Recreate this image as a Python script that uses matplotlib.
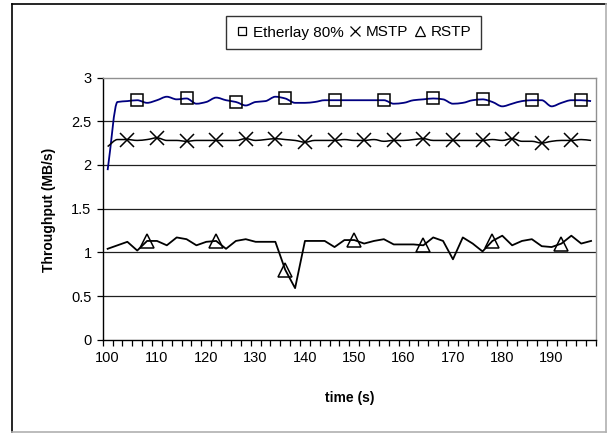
import numpy as np
import matplotlib
matplotlib.use("Agg")
import matplotlib.pyplot as plt
from matplotlib.path import Path
from matplotlib.patches import PathPatch
from matplotlib.lines import Line2D
from matplotlib.ticker import FixedLocator, MultipleLocator

plt.rcParams['font.family'] = ['Liberation Sans', 'DejaVu Sans']

# Sample times (s), one sample every 2 s
time_s = [100, 102, 104, 106, 108, 110, 112, 114, 116, 118,
          120, 122, 124, 126, 128, 130, 132, 134, 136, 138,
          140, 142, 144, 146, 148, 150, 152, 154, 156, 158,
          160, 162, 164, 166, 168, 170, 172, 174, 176, 178,
          180, 182, 184, 186, 188, 190, 192, 194, 196, 198]

# Throughput (MB/s)
etherlay = [1.94, 2.72, 2.73, 2.74, 2.71, 2.74, 2.78, 2.75, 2.76, 2.70,
            2.72, 2.77, 2.74, 2.72, 2.68, 2.72, 2.73, 2.78, 2.76, 2.71,
            2.71, 2.72, 2.74, 2.74, 2.74, 2.74, 2.74, 2.74, 2.74, 2.70,
            2.71, 2.74, 2.75, 2.76, 2.75, 2.70, 2.71, 2.74, 2.75, 2.72,
            2.67, 2.70, 2.73, 2.74, 2.74, 2.67, 2.71, 2.74, 2.74, 2.73]

mstp = [2.21, 2.29, 2.29, 2.28, 2.29, 2.31, 2.28, 2.28, 2.27, 2.28,
        2.28, 2.28, 2.28, 2.28, 2.30, 2.28, 2.29, 2.30, 2.29, 2.28,
        2.26, 2.28, 2.28, 2.28, 2.29, 2.28, 2.28, 2.29, 2.27, 2.28,
        2.28, 2.29, 2.30, 2.28, 2.28, 2.28, 2.28, 2.28, 2.28, 2.29,
        2.28, 2.30, 2.27, 2.27, 2.25, 2.27, 2.28, 2.28, 2.29, 2.28]

rstp = [1.04, 1.08, 1.12, 1.02, 1.13, 1.13, 1.08, 1.17, 1.15, 1.08,
        1.12, 1.13, 1.04, 1.13, 1.15, 1.12, 1.12, 1.12, 0.80, 0.59,
        1.13, 1.13, 1.13, 1.06, 1.14, 1.14, 1.10, 1.13, 1.15, 1.09,
        1.09, 1.09, 1.08, 1.17, 1.13, 0.92, 1.17, 1.10, 1.01, 1.13,
        1.19, 1.08, 1.13, 1.15, 1.07, 1.06, 1.10, 1.19, 1.10, 1.13]

x_labels = [100, 110, 120, 130, 140, 150, 160, 170, 180, 190]
y_ticks = [0, 0.5, 1, 1.5, 2, 2.5, 3]


def smooth_path(x, y):
    """Monotone cubic Bezier path through the points (smoothed line)."""
    x = np.asarray(x, float)
    y = np.asarray(y, float)
    n = len(x)
    h = np.diff(x)
    s = np.diff(y) / h
    m = np.zeros(n)
    m[0], m[-1] = s[0], s[-1]
    for i in range(1, n - 1):
        if s[i - 1] * s[i] > 0:
            m[i] = 2 * s[i - 1] * s[i] / (s[i - 1] + s[i])
        else:
            m[i] = 0.0
    verts = [(x[0], y[0])]
    codes = [Path.MOVETO]
    for i in range(n - 1):
        c1 = (x[i] + h[i] / 3, y[i] + m[i] * h[i] / 3)
        c2 = (x[i + 1] - h[i] / 3, y[i + 1] - m[i + 1] * h[i] / 3)
        verts += [c1, c2, (x[i + 1], y[i + 1])]
        codes += [Path.CURVE4] * 3
    return Path(verts, codes)


W, H = 609, 433
fig = plt.figure(figsize=(W / 100, H / 100), dpi=100)
fig.patch.set_facecolor('white')

left, right, top, bottom = 102.7, 596.0, 77.5, 339.7
ax = fig.add_axes([left / W, 1 - bottom / H, (right - left) / W, (bottom - top) / H])

# grid lines
for v in y_ticks[1:-1]:
    ax.axhline(v, color='#202020', lw=0.9, zorder=1)

# series
ax.add_patch(PathPatch(smooth_path(time_s, etherlay), facecolor='none',
                       edgecolor='#000080', lw=1.3, zorder=3))
ax.add_patch(PathPatch(smooth_path(time_s, mstp), facecolor='none',
                       edgecolor='black', lw=1.1, zorder=3))
ax.plot(time_s, rstp, color='black', lw=1.3, zorder=3)

ax.plot(time_s, etherlay, ls='none', marker='s', ms=8.5, mfc='none', mec='black',
        mew=1.1, markevery=(3, 5), zorder=4)
ax.plot(time_s, mstp, ls='none', marker='x', ms=10, mec='black',
        mew=1.1, markevery=(2, 3), zorder=4)
ax.plot(time_s, rstp, ls='none', marker='^', ms=10, mfc='none', mec='black',
        mew=1.1, markevery=(4, 7), zorder=4)

ax.set_xlim(99, 199)
ax.set_ylim(0, 3)

ax.xaxis.set_major_locator(FixedLocator(x_labels))
ax.set_xticklabels([str(v) for v in x_labels])
ax.xaxis.set_minor_locator(MultipleLocator(2, offset=1))
ax.tick_params(axis='x', which='major', length=0, pad=8, labelsize=10.5)
ax.tick_params(axis='x', which='minor', length=4, width=0.9, direction='out', color='black')

ax.yaxis.set_major_locator(FixedLocator(y_ticks))
ax.set_yticklabels(['0', '0.5', '1', '1.5', '2', '2.5', '3'])
ax.tick_params(axis='y', which='major', length=4, width=0.9, direction='out',
               pad=4, labelsize=10.5)

for s in ['left', 'bottom']:
    ax.spines[s].set_color('black')
    ax.spines[s].set_linewidth(1.0)
for s in ['top', 'right']:
    ax.spines[s].set_color('#909090')
    ax.spines[s].set_linewidth(1.0)

ax.set_ylabel('Throughput (MB/s)', fontsize=10, fontweight='bold')
ax.yaxis.set_label_coords(-0.095, 0.495)
ax.set_xlabel('time (s)', fontsize=10, fontweight='bold')
ax.xaxis.set_label_coords(0.501, -0.196)

# legend
handles = [
    Line2D([], [], ls='none', marker='s', ms=6, mfc='none', mec='black', mew=0.9),
    Line2D([], [], ls='none', marker='x', ms=7, mec='black', mew=0.9),
    Line2D([], [], ls='none', marker='^', ms=7, mfc='none', mec='black', mew=0.9),
]
leg = fig.legend(handles, ['Etherlay 80%', 'MSTP', 'RSTP'], ncol=3,
                 loc='center', bbox_to_anchor=(353.5 / W, 1 - 32.5 / H),
                 frameon=True, fancybox=False, edgecolor='black',
                 fontsize=11, handlelength=0.8, handletextpad=0.3,
                 columnspacing=0.35, borderpad=0.65, borderaxespad=0)
leg.get_frame().set_linewidth(1.0)

# chart border
fig.add_artist(Line2D([12 / W, 12 / W], [1 - 4 / H, 1 - 431.5 / H], color='black', lw=1.2))
fig.add_artist(Line2D([12 / W, 606 / W], [1 - 4 / H, 1 - 4 / H], color='black', lw=1.2))
fig.add_artist(Line2D([606 / W, 606 / W], [1 - 4 / H, 1 - 431.5 / H], color='#b0b0b0', lw=1.2))
fig.add_artist(Line2D([12 / W, 606 / W], [1 - 431.5 / H, 1 - 431.5 / H], color='#b0b0b0', lw=1.2))

fig.savefig('out.png', dpi=100, facecolor='white')
